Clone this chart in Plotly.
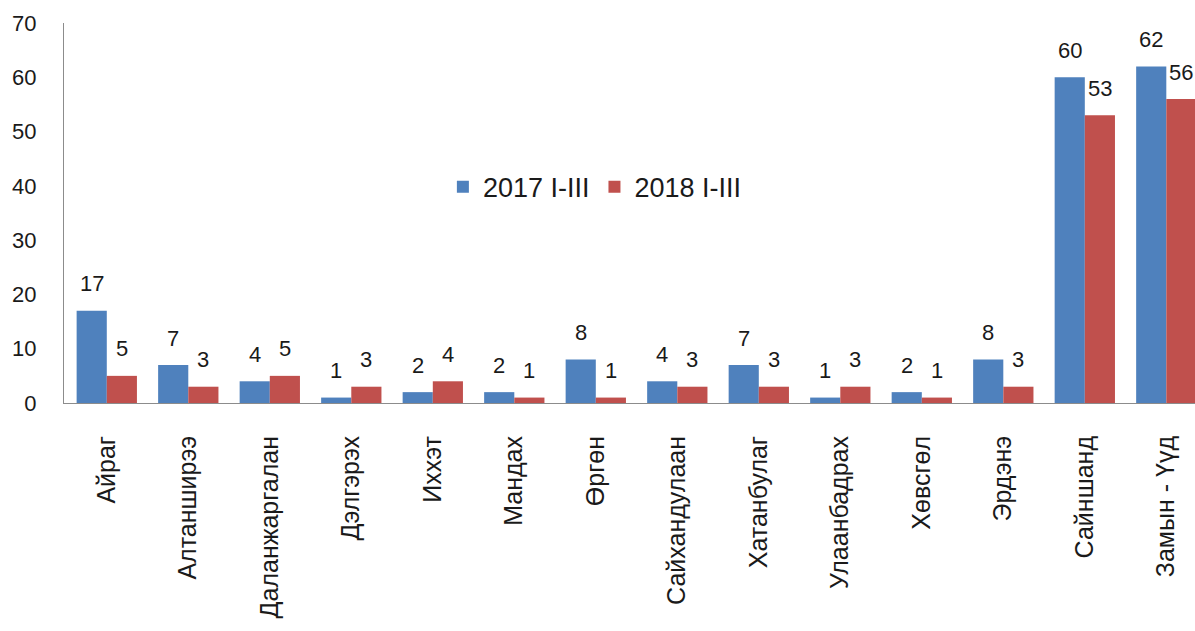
import plotly.graph_objects as go

categories = ["Айраг", "Алтанширээ", "Даланжаргалан", "Дэлгэрэх", "Иххэт", "Мандах",
              "Өргөн", "Сайхандулаан", "Хатанбулаг", "Улаанбадрах", "Хөвсгөл", "Эрдэнэ",
              "Сайншанд", "Замын - Үүд"]
series_2017 = [17, 7, 4, 1, 2, 2, 8, 4, 7, 1, 2, 8, 60, 62]
series_2018 = [5, 3, 5, 3, 4, 1, 1, 3, 3, 3, 1, 3, 53, 56]
y_ticks = [0, 10, 20, 30, 40, 50, 60, 70]

BLUE = "#4F81BD"
RED = "#C0504D"
FONT = "Liberation Sans, Arial, sans-serif"
TXT = "#1a1a1a"

fig = go.Figure()
fig.add_trace(go.Bar(name="2017 I-III", x=categories, y=series_2017, marker_color=BLUE,
                     marker_line_width=0))
fig.add_trace(go.Bar(name="2018 I-III", x=categories, y=series_2018, marker_color=RED,
                     marker_line_width=0))

annotations = []
for cat, v1, v2 in zip(categories, series_2017, series_2018):
    for v, xs in ((v1, -15), (v2, 15)):
        annotations.append(dict(x=cat, y=v, text=str(v), showarrow=False, xshift=xs,
                                yshift=27, font=dict(family=FONT, size=22, color=TXT),
                                xref="x", yref="y"))

fig.update_layout(
    width=1195, height=631,
    margin=dict(l=64, r=0, t=23, b=228, autoexpand=False),
    paper_bgcolor="white", plot_bgcolor="white",
    barmode="group", bargap=0.26, bargroupgap=0,
    font=dict(family=FONT, color=TXT),
    showlegend=True,
    legend=dict(orientation="h", x=0.335, y=0.568, xanchor="left", yanchor="middle",
                font=dict(family=FONT, size=27, color=TXT), bgcolor="rgba(0,0,0,0)",
                itemwidth=30, traceorder="normal"),
    annotations=annotations,
    xaxis=dict(range=[-0.525, 13.352], tickangle=-90, showline=True, linecolor="#8c8c8c",
               linewidth=1, showgrid=False, ticks="", ticklabelstandoff=22, automargin=False,
               tickfont=dict(family=FONT, size=25, color=TXT)),
    yaxis=dict(range=[0, 70], tickvals=y_ticks, showline=True, linecolor="#8c8c8c",
               linewidth=1, showgrid=False, zeroline=False, ticks="", ticklabelstandoff=22,
               automargin=False, tickfont=dict(family=FONT, size=22, color=TXT)),
)

fig.write_html("out.html", config={"displayModeBar": False},
               post_script="document.body.style.margin='0';document.body.style.overflow='hidden';")
